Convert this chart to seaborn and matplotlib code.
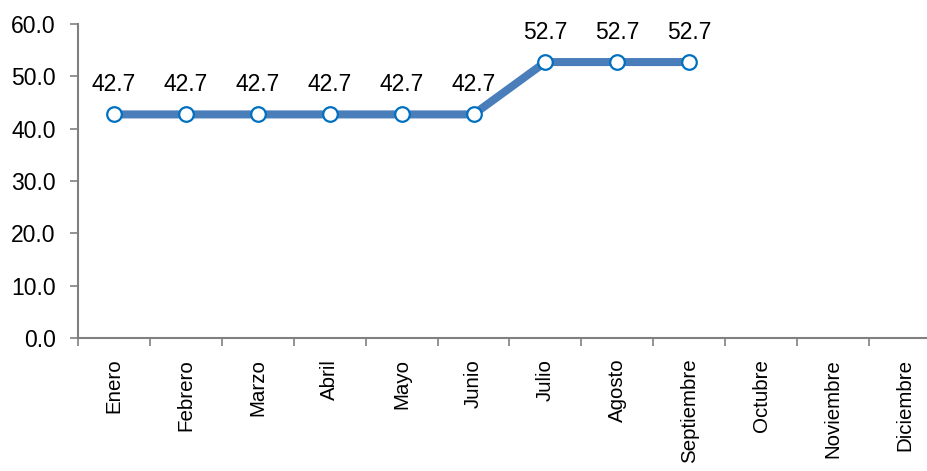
import numpy as np
import pandas as pd
import matplotlib.pyplot as plt
import seaborn as sns

meses = ["Enero", "Febrero", "Marzo", "Abril", "Mayo", "Junio", "Julio",
         "Agosto", "Septiembre", "Octubre", "Noviembre", "Diciembre"]
valores = [42.7, 42.7, 42.7, 42.7, 42.7, 42.7, 52.7, 52.7, 52.7,
           np.nan, np.nan, np.nan]

df = pd.DataFrame({"pos": np.arange(len(meses)), "valor": valores})

sns.set_style("white")
plt.rcParams["font.family"] = ["Liberation Sans", "DejaVu Sans"]
plt.rcParams["text.color"] = "black"
plt.rcParams["xtick.color"] = "black"
plt.rcParams["ytick.color"] = "black"

fig = plt.figure(figsize=(9.28, 4.71), dpi=100)
ax = fig.add_axes([0.084, 0.2824, 0.93, 0.667])

sns.lineplot(data=df, x="pos", y="valor", ax=ax, color="#4A7EBB", linewidth=5.8,
             marker="o", markersize=10.5, markerfacecolor="white",
             markeredgecolor="#0070C0", markeredgewidth=1.6)

# etiquetas de datos
for i, v in enumerate(valores):
    if not np.isnan(v):
        ax.annotate(f"{v:.1f}", (i, v), xytext=(0, 13), textcoords="offset points",
                    ha="center", va="bottom", fontsize=16.5, color="black")

ax.set_xlim(-0.5, len(meses) - 0.5)
ax.set_ylim(0, 60)
ax.set_yticks(np.arange(0, 61, 10))
ax.set_yticklabels([f"{t:.1f}" for t in np.arange(0, 61, 10)], fontsize=16.5)

# marcas entre categorias, etiquetas en el centro
ax.set_xticks(np.arange(-0.5, len(meses), 1))
ax.set_xticklabels([])
ax.set_xticks(np.arange(len(meses)), minor=True)
ax.set_xticklabels(meses, minor=True, rotation=90, fontsize=14.8)
ax.tick_params(axis="x", which="minor", length=0, pad=15, bottom=True)
ax.tick_params(axis="x", which="major", direction="out", length=6,
               color="#808080", width=1.2, bottom=True)
ax.tick_params(axis="y", direction="out", length=6, color="#808080",
               width=1.2, pad=10, left=True)

ax.set_xlabel("")
ax.set_ylabel("")
for s in ["top", "right"]:
    ax.spines[s].set_visible(False)
for s in ["left", "bottom"]:
    ax.spines[s].set_color("#808080")
    ax.spines[s].set_linewidth(1.5)
ax.grid(False)

fig.savefig("out.png", dpi=100)
